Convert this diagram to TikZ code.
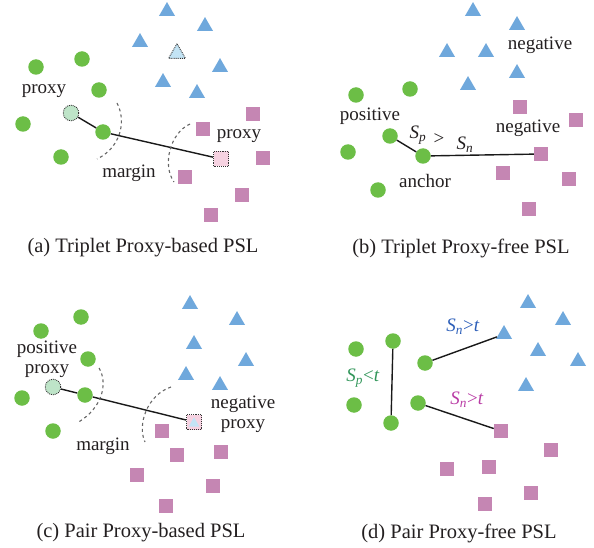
\documentclass[tikz,border=0pt]{standalone}
\usepackage{tikz}
\usetikzlibrary{shapes.geometric}
\usepackage{fontspec}
\setmainfont{Liberation Serif}
\usepackage{color}

\definecolor{ptgreen}{RGB}{108,190,70}
\definecolor{ptblue}{RGB}{111,168,220}
\definecolor{ptpink}{RGB}{197,134,179}
\definecolor{pxgreen}{RGB}{190,228,200}
\definecolor{pxblue}{RGB}{195,228,245}
\definecolor{pxpink}{RGB}{246,210,225}
\definecolor{txtgray}{RGB}{35,31,32}
\definecolor{sgreen}{RGB}{50,150,90}
\definecolor{sblue}{RGB}{45,95,185}
\definecolor{spink}{RGB}{185,60,165}

\tikzset{
	ptdot/.style={circle, fill=ptgreen, inner sep=0pt, minimum size=15.5pt},
	tri/.style={regular polygon, regular polygon sides=3, inner sep=0pt, minimum size=#1, yshift=-#1/8},
	pttri/.style={tri=18.5pt, fill=ptblue},
	ptsq/.style={rectangle, fill=ptpink, inner sep=0pt, minimum size=14pt},
	pxline/.style={draw=black!80, densely dotted, line width=0.9pt},
	pxdot/.style={ptdot, fill=pxgreen, pxline},
	pxtri/.style={tri=19.5pt, fill=pxblue, pxline},
	pxsq/.style={ptsq, minimum size=15pt, fill=pxpink, pxline},
	link/.style={line width=1.4pt, black!90},
	marg/.style={dash pattern=on 3pt off 3pt, line width=1.1pt, black!60},
	lbl/.style={font=\fontsize{19}{20}\selectfont, text=txtgray, inner sep=0pt, align=center},
	subcap/.style={font=\fontsize{20.5}{24}\selectfont, text=txtgray, inner sep=0pt}
}

\begin{document}
\begin{tikzpicture}[x=1pt, y=-1pt]
	\useasboundingbox (0,0) rectangle (594,548);

	% (a) triplet, proxy-based
	\node [ptdot] (AP1) at (36,67) {};
	\node [ptdot] (AP2) at (82,59) {};
	\node [ptdot] (AP3) at (99,90) {};
	\node [ptdot] (AP4) at (23,124) {};
	\node [ptdot] (AP5) at (103,132) {};
	\node [ptdot] (AP6) at (61,157) {};
	\node [pxdot] (APX) at (71,113) {};

	\node [pttri] (AN1) at (167,9) {};
	\node [pttri] (AN2) at (205,24) {};
	\node [pttri] (AN3) at (140,40) {};
	\node [pttri] (AN4) at (220,65) {};
	\node [pttri] (AN5) at (163,80) {};
	\node [pttri] (AN6) at (197,91) {};
	\node [pxtri] (ANX) at (177,51) {};

	\node [ptsq] (AS1) at (253,114) {};
	\node [ptsq] (AS2) at (203,129) {};
	\node [ptsq] (AS3) at (263,158) {};
	\node [ptsq] (AS4) at (185,177) {};
	\node [ptsq] (AS5) at (242,195) {};
	\node [ptsq] (AS6) at (211,215) {};
	\node [pxsq] (ASX) at (221,159) {};

	\draw [link] (APX) -- (AP5);
	\draw [link] (AP5) -- (ASX);
	\draw [marg] (117,103) .. controls (127,122) and (120,148) .. (97,159);
	\draw [marg] (190,124) .. controls (170,133) and (162,165) .. (174,182);

	\node [lbl] (LA1) at (44,91) {proxy};
	\node [lbl] (LA2) at (239,136) {proxy};
	\node [lbl] (LA3) at (129,173) {margin};
	\node [subcap] (CA) at (143,248) {(a) Triplet Proxy-based PSL};

	% (b) triplet, proxy-free
	\node [ptdot] (BP1) at (356,95) {};
	\node [ptdot] (BP2) at (410,89) {};
	\node [ptdot] (BP3) at (390,136) {};
	\node [ptdot] (BP4) at (348,152) {};
	\node [ptdot] (BP5) at (423,156) {};
	\node [ptdot] (BP6) at (378,190) {};

	\node [pttri] (BN1) at (473,9) {};
	\node [pttri] (BN2) at (517,23) {};
	\node [pttri] (BN3) at (447,50) {};
	\node [pttri] (BN4) at (486,50) {};
	\node [pttri] (BN5) at (517,71) {};
	\node [pttri] (BN6) at (468,83) {};

	\node [ptsq] (BS1) at (520,107) {};
	\node [ptsq] (BS2) at (576,120) {};
	\node [ptsq] (BS3) at (541,154) {};
	\node [ptsq] (BS4) at (503,173) {};
	\node [ptsq] (BS5) at (569,179) {};
	\node [ptsq] (BS6) at (529,209) {};

	\draw [link] (BP3) -- (BP5);
	\draw [link] (BP5) -- (BS3);

	\node [lbl] (LB1) at (540,45) {negative};
	\node [lbl] (LB2) at (370,116) {positive};
	\node [lbl] (LB3) at (528,128) {negative};
	\node [lbl] (LB4) at (425,181) {anchor};
	\node [lbl] (LB5) at (418,135) {\textit{S}\textsubscript{\textit{p}}};
	\node [lbl] (LB6) at (439,139) {>};
	\node [lbl] (LB7) at (465,145) {\textit{S}\textsubscript{\textit{n}}};
	\node [subcap] (CB) at (461,248) {(b) Triplet Proxy-free PSL};

	% (c) pair, proxy-based
	\node [ptdot] (CP1) at (81,317) {};
	\node [ptdot] (CP2) at (41,331) {};
	\node [ptdot] (CP3) at (88,359) {};
	\node [ptdot] (CP4) at (22,398) {};
	\node [ptdot] (CP5) at (85,395) {};
	\node [ptdot] (CP6) at (53,431) {};
	\node [pxdot] (CPX) at (53,387) {};

	\node [pttri] (CN1) at (190,302) {};
	\node [pttri] (CN2) at (237,318) {};
	\node [pttri] (CN3) at (194,342) {};
	\node [pttri] (CN4) at (246,359) {};
	\node [pttri] (CN5) at (186,373) {};
	\node [pttri] (CN6) at (220,383) {};

	\node [ptsq] (CS1) at (162,431) {};
	\node [ptsq] (CS2) at (177,455) {};
	\node [ptsq] (CS3) at (221,452) {};
	\node [ptsq] (CS4) at (137,475) {};
	\node [ptsq] (CS5) at (213,486) {};
	\node [ptsq] (CS6) at (166,506) {};
	\node [pxsq] (CSX) at (194,422) {};
	\node [tri=12.5pt, fill=pxblue] (CNX) at (194,422) {};

	\draw [link] (CPX) -- (CP5);
	\draw [link] (CP5) -- (CSX);
	\draw [marg] (99,368) .. controls (108,383) and (103,408) .. (77,423);
	\draw [marg] (171,387) .. controls (147,395) and (137,425) .. (145,442);

	\node [lbl] (LC1) at (47,359) {positive\\proxy};
	\node [lbl] (LC2) at (243,414) {negative\\proxy};
	\node [lbl] (LC3) at (103,446) {margin};
	\node [subcap] (CC) at (141,533) {(c) Pair Proxy-based PSL};

	% (d) pair, proxy-free
	\node [ptdot] (DP1) at (356,349) {};
	\node [ptdot] (DP2) at (393,341) {};
	\node [ptdot] (DP3) at (425,363) {};
	\node [ptdot] (DP4) at (354,405) {};
	\node [ptdot] (DP5) at (418,403) {};
	\node [ptdot] (DP6) at (391,423) {};

	\node [pttri] (DN1) at (528,301) {};
	\node [pttri] (DN2) at (563,318) {};
	\node [pttri] (DN3) at (504,332) {};
	\node [pttri] (DN4) at (538,349) {};
	\node [pttri] (DN5) at (578,359) {};
	\node [pttri] (DN6) at (526,384) {};

	\node [ptsq] (DS1) at (501,431) {};
	\node [ptsq] (DS2) at (551,450) {};
	\node [ptsq] (DS3) at (447,469) {};
	\node [ptsq] (DS4) at (489,467) {};
	\node [ptsq] (DS5) at (531,493) {};
	\node [ptsq] (DS6) at (485,504) {};

	\draw [link] (DP2) -- (DP6);
	\draw [link] (DP3) -- (DN3);
	\draw [link] (DP5) -- (DS1);

	\node [lbl, text=sblue] (LD1) at (463,327) {\textit{S}\textsubscript{\textit{n}}>\textit{t}};
	\node [lbl, text=sgreen] (LD2) at (363,378) {\textit{S}\textsubscript{\textit{p}}<\textit{t}};
	\node [lbl, text=spink] (LD3) at (467,400) {\textit{S}\textsubscript{\textit{n}}>\textit{t}};
	\node [subcap] (CD) at (459,533) {(d) Pair Proxy-free PSL};

\end{tikzpicture}
\end{document}
